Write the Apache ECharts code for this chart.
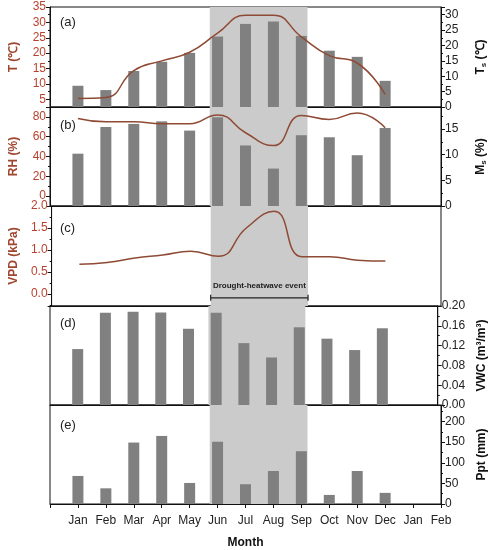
<!DOCTYPE html>
<html><head><meta charset="utf-8">
<script src="https://cdn.jsdelivr.net/npm/echarts@6/dist/echarts.min.js"></script>
<style>html,body{margin:0;padding:0;background:#fff}#c{width:496px;height:550px}</style>
</head><body><div id="c"></div>
<script>
// ---- data ----
const tickLabels = ['', 'Jan','Feb','Mar','Apr','May','Jun','Jul','Aug','Sep','Oct','Nov','Dec','Jan','Feb'];
const monthX = [1,2,3,4,5,6,7,8,9,10,11,12];
const airT = [5.3, 5.6, 14.3, 17.5, 20.3, 26.5, 32.3, 32.3, 25.3, 19.2, 16.8, 6.6];      // T (℃), line
const soilT = [6.9, 5.5, 11.7, 14.7, 17.6, 22.9, 27.0, 27.8, 23.1, 18.3, 16.3, 8.5];     // Ts (℃), bars
const rh = [78.4, 75, 75, 73, 73, 82, 64, 51, 81.5, 77.4, 84, 69];                       // RH (%), line
const ms = [10.2, 15.4, 16.0, 16.5, 14.7, 17.3, 11.8, 7.3, 13.8, 13.4, 9.9, 15.2];       // Ms (%), bars
const vpd = [0.68, 0.72, 0.82, 0.89, 0.97, 0.86, 1.5, 1.88, 0.85, 0.85, 0.77, 0.75];     // VPD (kPa), line
const vwc = [0.113, 0.1865, 0.1885, 0.187, 0.154, 0.1865, 0.125, 0.096, 0.157, 0.134, 0.111, 0.155]; // VWC
const ppt = [68, 38, 149, 165, 51, 151, 48, 80, 128, 22, 80, 27];                         // Ppt (mm)
const droughtStart = 5.72, droughtEnd = 9.22;
const eventLabel = 'Drought-heatwave event';
const panelTags = ['(a)','(b)','(c)','(d)','(e)'];

// ---- styles ----
const FONT = '"Liberation Sans", Arial, sans-serif';
const LEFTC = '#b8412e', NAMEC = '#a0452e', LINEC = '#8f4a35', BARC = '#808080', SHADE = '#cbcbcb';
const pairs = arr => monthX.map((x, i) => [x, arr[i]]);
const fmt = (step, dec) => v => { const r = v / step; return Math.abs(r - Math.round(r)) < 1e-6 ? v.toFixed(dec) : ''; };

const tops = [7, 107, 206, 306, 405];
const heights = [100, 99, 100, 99, 100];
const grids = tops.map((t, i) => ({ left: 50, right: 55, top: t, height: heights[i], show: true, borderColor: '#111', borderWidth: 1, backgroundColor: 'transparent' }));

const xAxes = tops.map((t, i) => ({
  type: 'value', gridIndex: i, min: 0, max: 14, interval: 1,
  axisLine: { show: true, onZero: false, lineStyle: { color: '#111', width: 1 } },
  axisTick: { show: i === 4, length: 4, lineStyle: { color: '#111' } },
  axisLabel: { show: i === 4, margin: 11, fontSize: 12, color: '#222', fontFamily: FONT, formatter: v => tickLabels[v] || '' },
  splitLine: { show: false },
  name: i === 4 ? 'Month' : '', nameLocation: 'middle', nameGap: 33,
  nameTextStyle: { fontSize: 12, fontWeight: 'bold', color: '#111', fontFamily: FONT }
}));

function yAx(o) {
  const left = o.position === 'left';
  return Object.assign({
    type: 'value', axisLine: { show: true, onZero: false, lineStyle: { color: '#111' } },
    axisTick: { show: true, length: 4, lineStyle: { color: '#111' } },
    minorTick: { show: true, splitNumber: 2, length: 2, lineStyle: { color: '#111' } },
    splitLine: { show: false },
    nameLocation: 'middle', nameRotate: 90, nameGap: left ? 30 : 33,
    nameTextStyle: {
      fontSize: 12, fontWeight: 'bold', color: left ? NAMEC : '#111', fontFamily: FONT,
      rich: {
        n: { fontSize: 12, fontWeight: 'bold', color: '#111', fontFamily: FONT, lineHeight: 14 },
        s: { fontSize: 8, fontWeight: 'bold', color: '#111', fontFamily: FONT, lineHeight: 8, verticalAlign: 'bottom' }
      }
    }
  }, o, { axisLabel: Object.assign({ fontSize: 12, color: left ? LEFTC : '#222', fontFamily: FONT, margin: 4 }, o.axisLabel || {}) });
}

const yAxes = [
  yAx({ gridIndex: 0, position: 'left', min: 2.5, max: 35, minInterval: 5, maxInterval: 5, name: 'T (℃)', axisLabel: { formatter: fmt(5, 0) } }),
  yAx({ gridIndex: 0, position: 'right', min: 0, max: 32.5, interval: 5, name: '{n|T}{s|s}{n| (℃)}', axisLabel: { formatter: fmt(5, 0) } }),
  yAx({ gridIndex: 1, position: 'left', min: -10, max: 90, minInterval: 20, maxInterval: 20, name: 'RH (%)', axisLabel: { formatter: fmt(20, 0) } }),
  yAx({ gridIndex: 1, position: 'right', min: 0, max: 19.3, interval: 5, name: '{n|M}{s|s}{n| (%)}', axisLabel: { formatter: fmt(5, 0) } }),
  yAx({ gridIndex: 2, position: 'left', min: -0.27, max: 2.0, minInterval: 0.5, maxInterval: 0.5, name: 'VPD (kPa)', axisLabel: { formatter: fmt(0.5, 1) } }),
  yAx({ gridIndex: 3, position: 'right', min: 0, max: 0.2, interval: 0.04, name: 'VWC (m³/m³)', axisLabel: { formatter: fmt(0.04, 2) } }),
  yAx({ gridIndex: 4, position: 'right', min: 0, max: 240, interval: 50, name: 'Ppt (mm)', axisLabel: { formatter: fmt(50, 0) } })
];

const shade = { silent: true, itemStyle: { color: SHADE }, data: [[{ xAxis: droughtStart }, { xAxis: droughtEnd }]] };
const bar = (xi, yi, arr) => ({ type: 'bar', xAxisIndex: xi, yAxisIndex: yi, data: pairs(arr), barWidth: 11, itemStyle: { color: BARC }, markArea: shade, z: 2, animation: false });
const line = (xi, yi, arr, withShade) => Object.assign({ type: 'line', xAxisIndex: xi, yAxisIndex: yi, data: pairs(arr), smooth: 0.5, symbol: 'none', lineStyle: { color: LINEC, width: 1.5 }, z: 3, animation: false }, withShade ? { markArea: shade } : {});

const series = [
  bar(0, 1, soilT), line(0, 0, airT),
  bar(1, 3, ms), line(1, 2, rh),
  line(2, 4, vpd, true),
  bar(3, 5, vwc),
  bar(4, 6, ppt)
];

const tagY = [16, 119, 222, 317, 419];
const graphic = panelTags.map((t, i) => ({ type: 'text', z: 100, left: 60, top: tagY[i], style: { text: t, fontSize: 13, fill: '#222', fontFamily: FONT } }));

const chart = echarts.init(document.getElementById('c'));
chart.setOption({ animation: false, grid: grids, xAxis: xAxes, yAxis: yAxes, series: series, graphic: graphic });

// drought-heatwave bracket in panel (c)
const p1 = chart.convertToPixel({ xAxisIndex: 2, yAxisIndex: 4 }, [droughtStart, -0.085]);
const p2 = chart.convertToPixel({ xAxisIndex: 2, yAxisIndex: 4 }, [droughtEnd, -0.085]);
const pt = chart.convertToPixel({ xAxisIndex: 2, yAxisIndex: 4 }, [(droughtStart + droughtEnd) / 2, 0.18]);
const S = { stroke: '#222', lineWidth: 1.2 };
graphic.push(
  { type: 'line', z: 100, shape: { x1: p1[0], y1: p1[1], x2: p2[0], y2: p2[1] }, style: S },
  { type: 'line', z: 100, shape: { x1: p1[0], y1: p1[1] - 3, x2: p1[0], y2: p1[1] + 3 }, style: S },
  { type: 'line', z: 100, shape: { x1: p2[0], y1: p2[1] - 3, x2: p2[0], y2: p2[1] + 3 }, style: S },
  { type: 'text', z: 100, x: pt[0], y: pt[1], style: { text: eventLabel, fontSize: 8, fontWeight: 'bold', fill: '#222', fontFamily: FONT, align: 'center', verticalAlign: 'middle' } }
);
chart.setOption({ graphic: graphic });
</script></body></html>
